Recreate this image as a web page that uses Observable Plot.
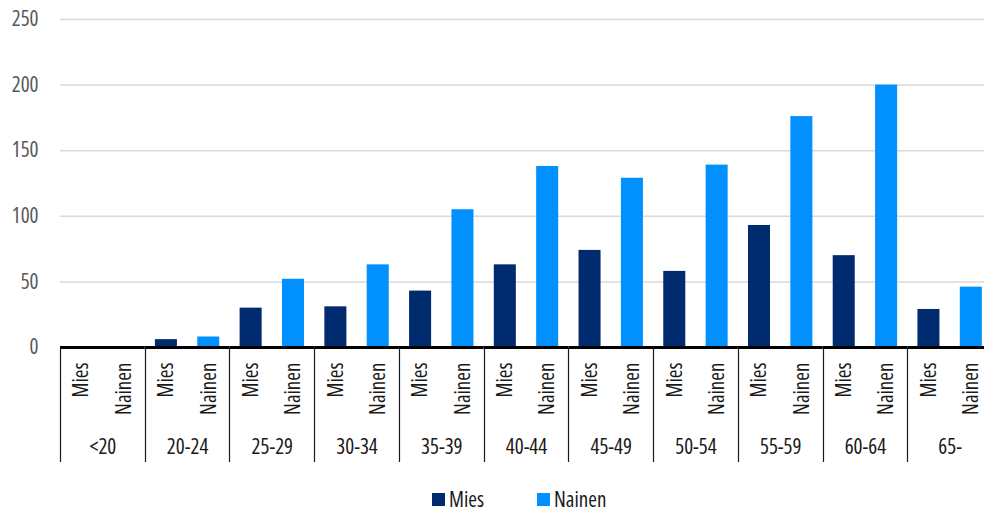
<!DOCTYPE html>
<html>
<head>
<meta charset="utf-8">
<script src="https://cdn.jsdelivr.net/npm/d3@7"></script>
<script src="https://cdn.jsdelivr.net/npm/@observablehq/plot@0.6"></script>
<style>
  html, body { margin: 0; padding: 0; background: #fff; overflow: hidden; }
  #wrap { position: relative; width: 984px; height: 513px; overflow: hidden; font-family: 'Open Sans', 'Noto Sans', sans-serif; font-stretch: 75%; }
  #chart svg { max-width: none !important; }
  #legend { position: absolute; left: 432px; top: 485px; display: flex; align-items: center; font-size: 21px; color: #1a1a1a; }
  .item { display: flex; align-items: center; }
  .sw { width: 13px; height: 13px; margin-right: 4px; }
</style>
</head>
<body>
<div id="wrap">
  <div id="chart"></div>
  <div id="legend"></div>
</div>
<script>
const ages = ["<20", "20-24", "25-29", "30-34", "35-39", "40-44", "45-49", "50-54", "55-59", "60-64", "65-"];
const sexes = ["Mies", "Nainen"];
const mies = [0, 6, 30, 31, 43, 63, 74, 58, 93, 70, 29];
const nainen = [0, 8, 52, 63, 105, 138, 129, 139, 176, 200, 46];
const colors = ["#002b6e", "#0091ff"];
const yTicks = [0, 50, 100, 150, 200, 250];

const data = ages.flatMap((a, i) => [
  {age: a, sex: "Mies", value: mies[i]},
  {age: a, sex: "Nainen", value: nainen[i]}
]);

const font = "'Open Sans', 'Noto Sans', sans-serif";

const plot = Plot.plot({
  width: 992,
  height: 470,
  marginTop: 19,
  marginBottom: 123,
  marginLeft: 60,
  marginRight: 0,
  facet: {marginTop: 0, marginRight: 0, marginBottom: 0, marginLeft: 0},
  style: {fontFamily: font, fontSize: "21px", fontStretch: "75%", color: "#1a1a1a", background: "white", overflow: "hidden", maxWidth: "none"},
  fx: {domain: ages, paddingInner: 0, paddingOuter: 0, round: false, label: null},
  x: {domain: sexes, paddingInner: 0.48, paddingOuter: 0.24, round: false, label: null},
  y: {domain: [0, 250], label: null},
  color: {domain: sexes, range: colors},
  marks: [
    Plot.gridY(yTicks, {stroke: "#d9d9d9", strokeOpacity: 1, strokeWidth: 1.5}),
    Plot.axisY(yTicks, {tickSize: 0, tickPadding: 22, fill: "#595959", fontSize: 21, label: null}),
    Plot.barY(data, {fx: "age", x: "sex", y: "value", fill: "sex"}),
    Plot.ruleY([0], {stroke: "#000", strokeWidth: 3}),
    Plot.axisX({tickRotate: -90, tickSize: 0, tickPadding: 15, fontSize: 21, fill: "#1a1a1a", label: null}),
    Plot.axisFx({anchor: "bottom", tickSize: 0, tickPadding: 92, fontSize: 21, fill: "#1a1a1a", label: null})
  ]
});

// category separators below the axis, placed from the fx scale
const fxs = plot.scale("fx");
const ys = plot.scale("y");
const sep = d3.select(plot).append("g").attr("stroke", "#1a1a1a").attr("stroke-width", 1.2);
ages.forEach(a => {
  const x0 = Math.round(fxs.apply(a)) + 0.5;
  sep.append("line").attr("x1", x0).attr("x2", x0).attr("y1", ys.apply(0) + 1).attr("y2", 462);
});

document.getElementById("chart").appendChild(plot);

const legend = d3.select("#legend");
sexes.forEach((s, i) => {
  const it = legend.append("div").attr("class", "item").style("margin-right", i === 0 ? "53px" : "0");
  it.append("div").attr("class", "sw").style("background", colors[i]);
  it.append("span").text(s);
});
</script>
</body>
</html>
